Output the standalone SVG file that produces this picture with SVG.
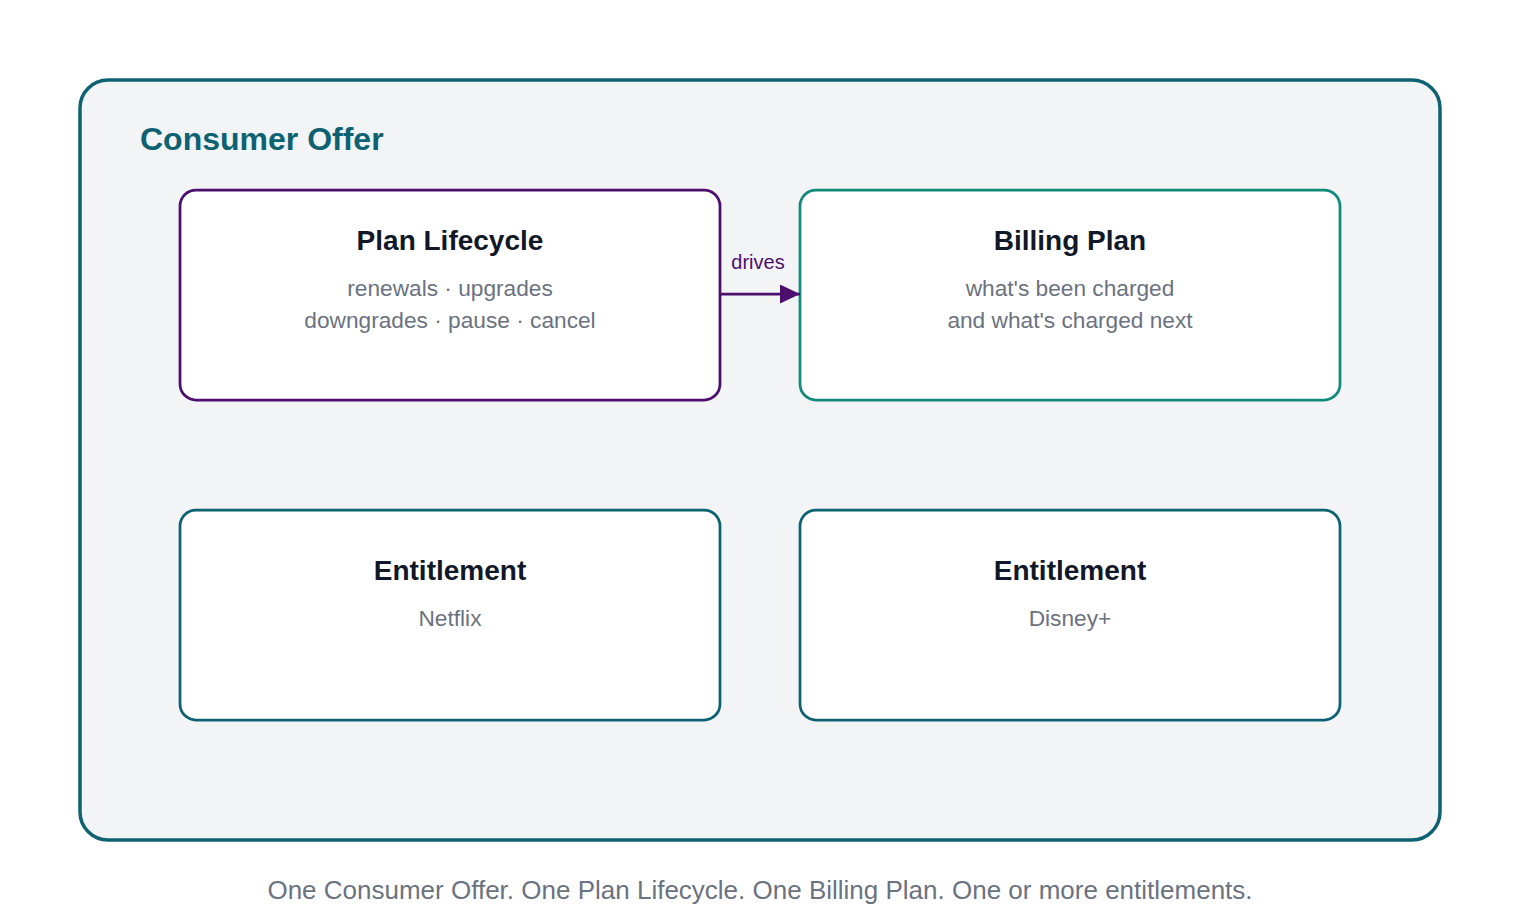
<svg xmlns="http://www.w3.org/2000/svg" width="1520" height="920" viewBox="0 0 1520 920">
  <defs>
    <style>
      text { font-family: "Liberation Sans", Arial, Helvetica, sans-serif; }
      .node { fill: #ffffff; stroke-width: 2.75; }
      .title { font-size: 28px; font-weight: bold; fill: #111827; text-anchor: middle; }
      .sub { font-size: 22.7px; fill: #6b7280; text-anchor: middle; }
      .edge { stroke: #4c0f6e; stroke-width: 2.75; fill: none; }
      .elabel { font-size: 20px; fill: #4c0f6e; text-anchor: middle; }
    </style>
    <marker id="arrow" markerWidth="20" markerHeight="20" refX="20" refY="9.5" orient="auto" markerUnits="userSpaceOnUse">
      <path d="M0,0 L20,9.5 L0,19 Z" fill="#4c0f6e"/>
    </marker>
  </defs>
  <rect width="1520" height="920" fill="#ffffff"/>
  <g id="consumer-offer">
    <rect x="80" y="80" width="1360" height="760" rx="28" fill="#f2f4f6" stroke="#0d6272" stroke-width="3.5"/>
    <text x="140" y="150" style="font-size:32px;font-weight:bold;fill:#0d6272">Consumer Offer</text>
  </g>
  <g id="plan-lifecycle">
    <rect class="node" x="180" y="190" width="540" height="210" rx="16" stroke="#4c0f6e"/>
    <text class="title" x="450" y="250">Plan Lifecycle</text>
    <text class="sub" x="450" y="296">renewals · upgrades</text>
    <text class="sub" x="450" y="328">downgrades · pause · cancel</text>
  </g>
  <g id="billing-plan">
    <rect class="node" x="800" y="190" width="540" height="210" rx="16" stroke="#128a7b"/>
    <text class="title" x="1070" y="250">Billing Plan</text>
    <text class="sub" x="1070" y="296">what's been charged</text>
    <text class="sub" x="1070" y="328">and what's charged next</text>
  </g>
  <g id="entitlement-netflix">
    <rect class="node" x="180" y="510" width="540" height="210" rx="16" stroke="#0d6272"/>
    <text class="title" x="450" y="580">Entitlement</text>
    <text class="sub" x="450" y="626">Netflix</text>
  </g>
  <g id="entitlement-disney">
    <rect class="node" x="800" y="510" width="540" height="210" rx="16" stroke="#0d6272"/>
    <text class="title" x="1070" y="580">Entitlement</text>
    <text class="sub" x="1070" y="626">Disney+</text>
  </g>
  <g id="connectors">
    <line class="edge" x1="720" y1="294" x2="800" y2="294" marker-end="url(#arrow)"/>
    <text class="elabel" x="758" y="269">drives</text>
  </g>
  <text x="760" y="899" style="font-size:26px;fill:#6b7280;text-anchor:middle">One Consumer Offer. One Plan Lifecycle. One Billing Plan. One or more entitlements.</text>
</svg>
